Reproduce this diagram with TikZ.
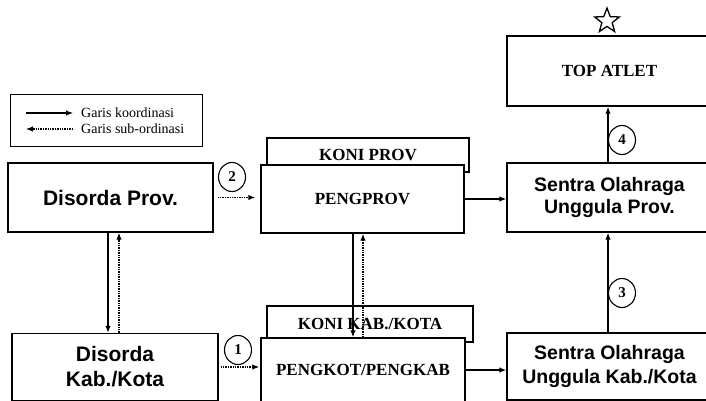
\documentclass[tikz,border=0pt]{standalone}
\usepackage{fontspec}
\setmainfont{Liberation Serif}
\newfontfamily\headfont{Liberation Sans}
\usetikzlibrary{arrows.meta,positioning,calc,shapes.geometric}

\begin{document}
\begin{tikzpicture}[x=1pt,y=-1pt,
 box/.style={draw,line width=1.3pt,fill=white,align=center,inner sep=0pt},
 serifbox/.style={box,font=\fontsize{17}{20}\selectfont\bfseries},
 sansbox/.style={box,font=\fontsize{19.5}{24}\selectfont\headfont\bfseries},
 koord/.style={-{Latex[length=7pt,width=5.5pt]},line width=1.6pt},
 subord/.style={-{Latex[length=7pt,width=5.5pt]},line width=1.4pt,densely dotted},
 numcirc/.style={draw,ellipse,line width=1.1pt,minimum width=27pt,minimum height=29pt,
 inner sep=0pt,font=\fontsize{15}{15}\selectfont\bfseries},
 legtext/.style={anchor=west,inner sep=0pt,font=\fontsize{14}{14}\selectfont}]
\clip (0,0) rectangle (706,401);

% legend
\node[box,line width=1pt,minimum width=192pt,minimum height=51pt] (legend) at (106,120.5) {};
\coordinate (ks) at (26,113);
\coordinate (ke) at (73,113);
\coordinate (ss) at (73,129);
\coordinate (se) at (26,129);
\draw[koord,line width=1.1pt] (ks) -- (ke);
\draw[subord,line width=1.1pt] (ss) -- (se);
\node[legtext] (ktext) at (81,113) {Garis koordinasi};
\node[legtext] (stext) at (81,129) {Garis sub-ordinasi};

% left column
\node[sansbox,font=\fontsize{21}{25}\selectfont\headfont\bfseries,
 minimum width=205pt,minimum height=69pt] (dprov) at (110.5,197.5) {Disorda Prov.};
\node[sansbox,font=\fontsize{21}{25}\selectfont\headfont\bfseries,
 minimum width=206pt,minimum height=67pt] (dkab) at (115,367) {Disorda\\Kab./Kota};

% middle column, KONI boxes sit behind
\node[serifbox,minimum width=202pt,minimum height=34pt] (koniprov) at (368,155) {KONI PROV};
\node[serifbox,minimum width=203pt,minimum height=68pt] (pengprov) at (362.5,199) {PENGPROV};
\node[serifbox,minimum width=206pt,minimum height=36pt] (konikab) at (370,324) {KONI KAB./KOTA};
\node[serifbox,minimum width=204pt,minimum height=64pt] (pengkot) at (363,370) {PENGKOT/PENGKAB};

% right column
\node[serifbox,minimum width=205pt,minimum height=70pt] (topatlet) at (609.5,71) {TOP ATLET};
\node[sansbox,font=\fontsize{19.5}{22.5}\selectfont\headfont\bfseries,
 minimum width=205pt,minimum height=69pt] (sprov) at (609.5,197.5) {Sentra Olahraga\\Unggula Prov.};
\node[sansbox,minimum width=205pt,minimum height=67pt] (skab) at (609.5,366.5) {Sentra Olahraga\\Unggula Kab./Kota};
\node[star,star points=5,star point ratio=2.4,draw,line width=1.3pt,
 minimum size=26pt,inner sep=0pt] (star) at (607,21) {};

% connectors
\draw[koord] ([xshift=-2.5pt]dprov.south) -- ([xshift=-2.5pt]dprov.south |- dkab.north);
\draw[subord] ([xshift=8.5pt]dprov.south |- dkab.north) -- ([xshift=8.5pt]dprov.south);
\draw[subord,shorten <=4pt,shorten >=5pt] (dprov.east) -- (dprov.east -| pengprov.west);
\draw[subord,shorten <=2pt,shorten >=1pt] (dkab.east) -- (dkab.east -| pengkot.west);
\draw[koord] ([xshift=-9.5pt]pengprov.south) -- ([xshift=-9.5pt]pengprov.south |- pengkot.north);
\draw[subord] ([xshift=0.5pt]pengprov.south |- pengkot.north) -- ([xshift=0.5pt]pengprov.south);
\draw[koord] (pengprov.east) -- (pengprov.east -| sprov.west);
\draw[koord] (pengkot.east) -- (pengkot.east -| skab.west);
\draw[koord] ([xshift=-1.5pt]skab.north) -- ([xshift=-1.5pt]sprov.south);
\draw[koord] ([xshift=-1.5pt]sprov.north) -- ([xshift=-1.5pt]topatlet.south);

% step numbers
\node[numcirc] (n1) at (238,350) {1};
\node[numcirc] (n2) at (232,177) {2};
\node[numcirc] (n3) at (622,293) {3};
\node[numcirc] (n4) at (622,140) {4};
\end{tikzpicture}
\end{document}
